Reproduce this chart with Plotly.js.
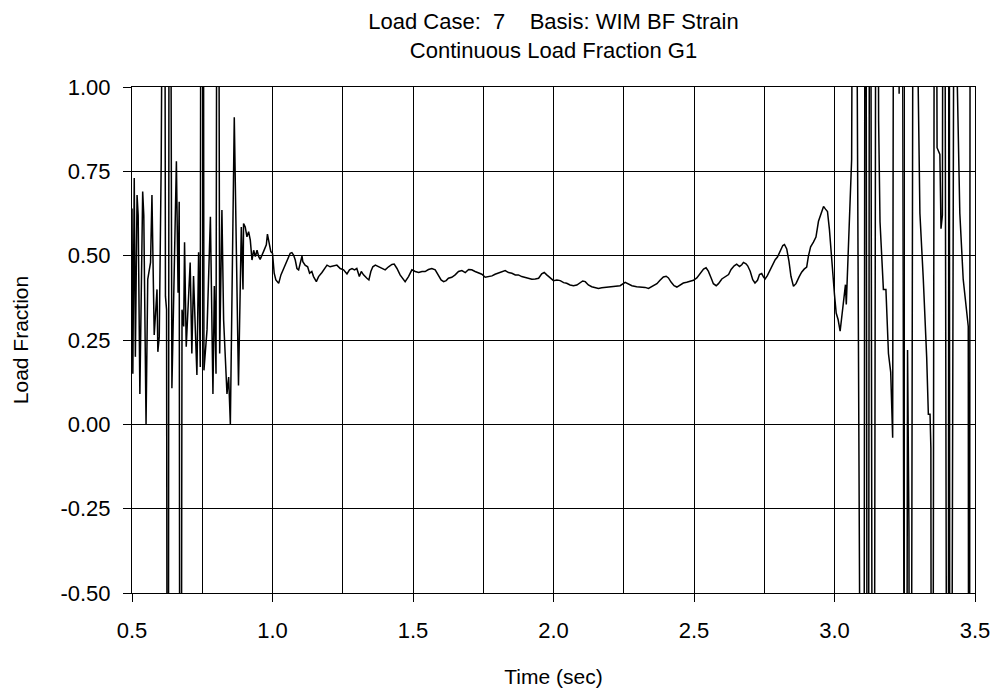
<!DOCTYPE html>
<html>
<head>
<meta charset="utf-8">
<script src="https://cdn.plot.ly/plotly-3.0.1.min.js"></script>
<style>html,body{margin:0;padding:0;background:#fff;}#chart{width:998px;height:692px;}</style>
</head>
<body>
<div id="chart"></div>
<script>
// Time (sec)
const timeSec = [
0.500,0.503,0.508,0.512,0.518,0.522,0.528,0.538,0.542,0.550,0.556,0.562,0.566,0.571,0.579,0.584,0.589,0.592,0.597,0.604,0.608,0.615,0.619,0.623,0.628,0.633,0.642,0.658,0.664,0.668,0.672,0.678,0.684,0.687,0.693,0.699,0.707,0.713,0.719,0.725,0.731,0.737,0.743,0.747,0.752,0.756,0.767,0.779,0.788,0.793,0.799,0.805,0.812,0.820,0.826,0.838,0.844,0.850,0.864,0.879,0.889,0.895,0.897,0.903,0.909,0.915,0.921,0.927,0.933,0.939,0.945,0.951,
0.956,0.968,0.978,0.982,0.988,0.994,1.000,1.006,1.012,1.022,1.030,1.039,1.049,1.057,1.063,1.069,1.075,1.081,1.087,1.093,1.099,1.105,1.108,1.116,1.125,1.132,1.140,1.146,1.156,1.164,1.176,1.188,1.194,1.205,1.217,1.229,1.241,1.253,1.265,1.274,1.283,1.292,1.300,1.309,1.316,1.324,1.336,1.343,1.350,1.357,1.366,1.377,1.389,1.401,1.413,1.425,1.433,1.443,1.454,1.464,1.472,1.484,1.496,1.508,1.520,1.532,1.543,1.555,1.567,1.579,1.591,1.600,1.609,1.618,1.626,1.638,1.650,1.662,1.674,1.686,1.698,1.709,1.721,1.733,1.745,1.757,1.769,1.781,1.792,1.804,1.816,1.828,1.840,1.852,1.864,1.875,1.887,1.899,1.911,1.923,1.935,1.947,1.958,1.967,1.976,1.988,2.000,2.012,2.024,2.036,2.047,2.059,2.071,2.083,2.095,2.104,2.113,2.124,2.136,2.148,2.160,2.172,2.184,2.196,2.207,2.219,2.237,
2.255,2.267,2.279,2.296,2.314,2.326,2.338,2.350,2.368,2.379,2.391,2.401,2.409,2.419,2.429,2.439,2.451,2.462,2.474,2.486,2.498,2.510,2.522,2.534,2.543,2.551,2.561,2.569,2.579,2.587,2.599,2.611,2.623,2.632,2.643,2.652,2.662,2.670,2.676,2.685,2.691,2.700,2.709,2.717,2.726,2.733,2.741,2.747,2.753,2.761,2.771,2.780,2.789,2.797,2.806,2.816,2.822,2.830,2.838,2.845,2.854,2.863,2.874,2.883,2.892,2.901,2.907,2.915,2.925,2.934,2.943,2.949,2.955,2.961,2.968,2.975,2.982,2.988,2.994,3.000,3.006,3.013,3.020,3.027,3.034,3.039,3.042,3.048,3.055,3.061,3.070,
3.103,3.110,3.119,3.126,3.138,3.150,3.157,3.162,3.174,3.183,3.192,3.200,3.207,3.213,3.224,3.230,3.238,3.253,3.260,3.265,3.269,3.283,3.297,3.304,3.316,3.328,3.334,3.340,3.343,3.347,3.358,3.365,3.375,3.379,3.384,3.389,3.404,3.408,3.411,3.430,3.436,3.446,3.458,3.468,3.476,3.479,3.484
];
// Load fraction G1
const loadFraction = [
0.64,0.15,0.73,0.20,0.68,0.62,0.09,0.69,0.62,0.00,0.43,0.47,0.48,0.68,0.265,0.33,0.40,0.215,0.26,0.78,2.5,2.5,0.38,0.34,-3,3,0.107,0.78,0.39,0.66,-3,0.34,0.29,0.54,0.23,0.34,0.48,0.21,0.44,0.29,0.146,0.51,0.17,3,3,0.16,0.28,0.615,0.09,0.41,0.15,3,0.21,0.635,0.31,0.09,0.14,0.00,0.91,0.115,0.585,0.40,0.595,0.585,0.556,0.571,0.546,0.487,0.516,0.497,0.516,0.497,
0.489,0.512,0.532,0.564,0.537,0.512,0.507,0.448,0.428,0.418,0.443,0.462,0.482,0.497,0.507,0.509,0.502,0.487,0.462,0.458,0.477,0.499,0.482,0.472,0.467,0.448,0.453,0.438,0.423,0.438,0.450,0.467,0.472,0.467,0.469,0.472,0.462,0.458,0.446,0.458,0.462,0.458,0.462,0.438,0.453,0.443,0.433,0.428,0.453,0.467,0.472,0.467,0.462,0.458,0.467,0.474,0.475,0.462,0.443,0.430,0.423,0.438,0.458,0.453,0.450,0.453,0.453,0.459,0.462,0.458,0.443,0.428,0.423,0.426,0.433,0.436,0.443,0.453,0.456,0.450,0.459,0.458,0.453,0.448,0.445,0.436,0.438,0.440,0.445,0.448,0.451,0.456,0.450,0.448,0.443,0.443,0.438,0.435,0.431,0.430,0.431,0.433,0.446,0.450,0.443,0.433,0.426,0.428,0.426,0.420,0.418,0.413,0.411,0.413,0.420,0.425,0.423,0.413,0.408,0.405,0.403,0.405,0.406,0.408,0.410,0.410,0.411,
0.421,0.417,0.411,0.408,0.407,0.406,0.403,0.409,0.417,0.427,0.437,0.439,0.434,0.421,0.411,0.407,0.414,0.419,0.421,0.424,0.427,0.434,0.447,0.460,0.464,0.454,0.434,0.417,0.411,0.417,0.431,0.437,0.444,0.459,0.470,0.475,0.468,0.473,0.480,0.476,0.470,0.454,0.429,0.419,0.427,0.444,0.447,0.437,0.431,0.441,0.459,0.476,0.488,0.496,0.513,0.530,0.533,0.520,0.483,0.439,0.409,0.417,0.437,0.451,0.460,0.466,0.498,0.526,0.540,0.555,0.602,0.617,0.636,0.646,0.638,0.631,0.577,0.503,0.439,0.384,0.330,0.310,0.276,0.330,0.394,0.414,0.355,0.488,0.666,0.785,3,
-3,3,-3,3,-3,3,0.9,0.60,0.40,0.40,0.21,0.155,-0.04,3,3,0.98,3,-3,0.22,-0.32,-3,3,1.05,0.625,0.43,0.20,0.03,0.03,-0.07,-3,3,0.82,0.80,0.58,0.62,3,-3,3,-3,3,1.05,0.625,0.43,0.35,0.29,-3,3
];
const xTickVals = [0.5,1.0,1.5,2.0,2.5,3.0,3.5];
const xTickText = ['0.5','1.0','1.5','2.0','2.5','3.0','3.5'];
const yTickVals = [-0.5,-0.25,0,0.25,0.5,0.75,1.0];
const yTickText = ['-0.50','-0.25','0.00','0.25','0.50','0.75','1.00'];

const fontFam = 'Liberation Sans, Arial, sans-serif';
const trace = {
  x: timeSec, y: loadFraction, type: 'scatter', mode: 'lines',
  line: {color: '#000', width: 1.5}, hoverinfo: 'skip', showlegend: false
};
const layout = {
  width: 998, height: 692,
  margin: {l: 132, r: 23, t: 87, b: 99, pad: 0},
  paper_bgcolor: '#fff', plot_bgcolor: '#fff',
  font: {family: fontFam, color: '#000', size: 22},
  title: {
    text: 'Load Case:\u00a0\u00a07\u00a0\u00a0\u00a0\u00a0Basis: WIM BF Strain<br>Continuous Load Fraction G1',
    x: 0.5, xref: 'paper', y: 0.958, yref: 'container', yanchor: 'top',
    font: {family: fontFam, size: 22, color: '#000'}
  },
  xaxis: {
    range: [0.5, 3.5], tickvals: xTickVals, ticktext: xTickText,
    ticks: 'outside', ticklen: 8, tickcolor: '#000', tickwidth: 1,
    showline: true, linecolor: '#000', linewidth: 1, mirror: true,
    showgrid: true, gridcolor: '#000', gridwidth: 1, zeroline: false,
    minor: {dtick: 0.25, tick0: 0.5, showgrid: true, gridcolor: '#000', gridwidth: 1, ticks: ''},
    ticklabelstandoff: 10,
    tickfont: {family: fontFam, size: 22, color: '#000'},
    title: {text: 'Time (sec)', font: {family: fontFam, size: 21, color: '#000'}, standoff: 26},
    fixedrange: true
  },
  yaxis: {
    range: [-0.5, 1.0], tickvals: yTickVals, ticktext: yTickText,
    ticks: 'outside', ticklen: 8, tickcolor: '#000', tickwidth: 1,
    showline: true, linecolor: '#000', linewidth: 1, mirror: true,
    showgrid: true, gridcolor: '#000', gridwidth: 1, zeroline: false,
    ticklabelstandoff: 8,
    tickfont: {family: fontFam, size: 22, color: '#000'},
    title: {text: 'Load Fraction', font: {family: fontFam, size: 21, color: '#000'}, standoff: 26},
    fixedrange: true
  }
};
Plotly.newPlot('chart', [trace], layout, {staticPlot: true, displayModeBar: false});
</script>
</body>
</html>
